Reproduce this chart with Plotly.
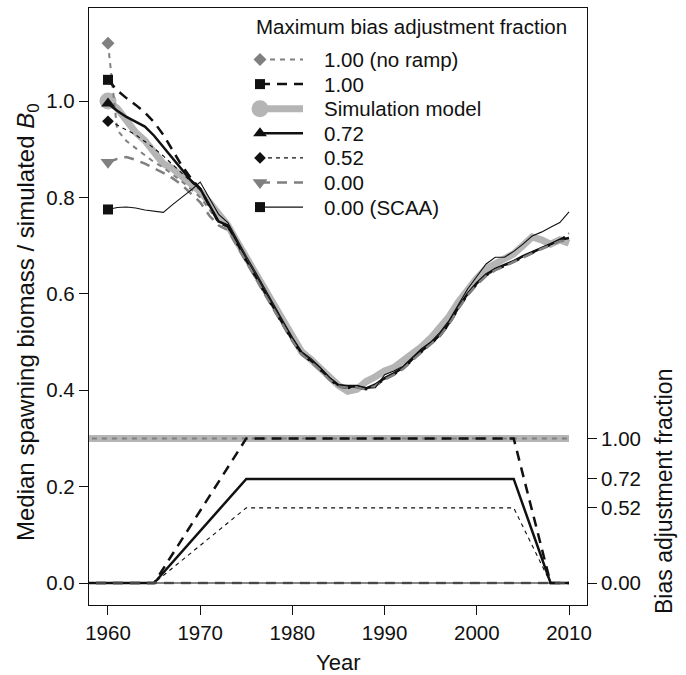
import plotly.graph_objects as go

# ---- data -------------------------------------------------------------
years = list(range(1960, 2011))

# median spawning biomass relative to simulated B0, one value per year
ssb_no_ramp = [1.120, 0.940, 0.917, 0.902, 0.887, 0.873, 0.862, 0.848, 0.833, 0.817,
               0.800, 0.775, 0.748, 0.738, 0.702, 0.667, 0.634, 0.601, 0.567, 0.535,
               0.503, 0.475, 0.460, 0.443, 0.423, 0.409, 0.406, 0.407, 0.403, 0.410,
               0.423, 0.433, 0.445, 0.463, 0.480, 0.495, 0.513, 0.538, 0.570, 0.598,
               0.620, 0.638, 0.650, 0.658, 0.667, 0.677, 0.686, 0.694, 0.702, 0.711,
               0.726]
ssb_100 = [1.044, 1.022, 1.006, 0.992, 0.976, 0.956, 0.930, 0.898, 0.866, 0.840,
           0.818, 0.782, 0.748, 0.740, 0.703, 0.668, 0.635, 0.600, 0.568, 0.535,
           0.503, 0.475, 0.460, 0.443, 0.423, 0.408, 0.405, 0.406, 0.402, 0.410,
           0.423, 0.433, 0.445, 0.463, 0.480, 0.495, 0.513, 0.538, 0.570, 0.598,
           0.620, 0.638, 0.650, 0.658, 0.667, 0.677, 0.686, 0.694, 0.702, 0.712,
           0.722]
ssb_sim = [1.000, 0.985, 0.960, 0.935, 0.918, 0.895, 0.870, 0.860, 0.843, 0.830,
           0.812, 0.790, 0.765, 0.742, 0.708, 0.675, 0.643, 0.608, 0.575, 0.543,
           0.510, 0.480, 0.464, 0.448, 0.428, 0.410, 0.398, 0.402, 0.418, 0.428,
           0.440, 0.447, 0.460, 0.475, 0.490, 0.508, 0.528, 0.553, 0.583, 0.608,
           0.632, 0.652, 0.663, 0.673, 0.683, 0.700, 0.718, 0.712, 0.703, 0.712,
           0.705]
ssb_072 = [0.995, 0.980, 0.967, 0.957, 0.947, 0.928, 0.905, 0.880, 0.857, 0.835,
           0.818, 0.785, 0.750, 0.742, 0.705, 0.670, 0.637, 0.603, 0.570, 0.537,
           0.505, 0.477, 0.462, 0.445, 0.425, 0.410, 0.407, 0.408, 0.404, 0.412,
           0.425, 0.435, 0.447, 0.465, 0.482, 0.497, 0.515, 0.540, 0.572, 0.600,
           0.622, 0.640, 0.652, 0.660, 0.668, 0.678, 0.687, 0.695, 0.703, 0.712,
           0.716]
ssb_052 = [0.958, 0.950, 0.940, 0.930, 0.916, 0.902, 0.886, 0.868, 0.850, 0.833,
           0.815, 0.783, 0.750, 0.741, 0.704, 0.669, 0.636, 0.602, 0.569, 0.536,
           0.504, 0.476, 0.461, 0.444, 0.424, 0.409, 0.406, 0.407, 0.403, 0.411,
           0.424, 0.434, 0.446, 0.464, 0.481, 0.496, 0.514, 0.539, 0.571, 0.599,
           0.621, 0.639, 0.651, 0.659, 0.668, 0.678, 0.687, 0.695, 0.703, 0.711,
           0.718]
ssb_000 = [0.873, 0.880, 0.884, 0.878, 0.870, 0.861, 0.851, 0.840, 0.826, 0.808,
           0.790, 0.762, 0.742, 0.732, 0.700, 0.666, 0.633, 0.599, 0.566, 0.534,
           0.502, 0.474, 0.459, 0.442, 0.422, 0.408, 0.405, 0.406, 0.402, 0.409,
           0.422, 0.432, 0.444, 0.462, 0.479, 0.494, 0.512, 0.537, 0.569, 0.597,
           0.619, 0.637, 0.649, 0.657, 0.666, 0.676, 0.685, 0.693, 0.701, 0.709,
           0.712]
ssb_scaa = [0.775, 0.779, 0.780, 0.778, 0.774, 0.771, 0.769, 0.785, 0.800, 0.815,
            0.832, 0.800, 0.765, 0.748, 0.712, 0.678, 0.645, 0.610, 0.577, 0.543,
            0.510, 0.480, 0.466, 0.448, 0.427, 0.412, 0.410, 0.410, 0.404, 0.405,
            0.432, 0.440, 0.450, 0.468, 0.486, 0.500, 0.520, 0.545, 0.578, 0.610,
            0.636, 0.662, 0.676, 0.676, 0.688, 0.703, 0.720, 0.728, 0.738, 0.748,
            0.770]

# bias adjustment ramps (right-hand axis)
ramp_years = [1955, 1965, 1975, 2004, 2008, 2010]
ramp_100 = [0, 0, 1.00, 1.00, 0, 0]
ramp_072 = [0, 0, 0.72, 0.72, 0, 0]
ramp_052 = [0, 0, 0.52, 0.52, 0, 0]
flat_years = [1955, 2010]
flat_one = [1.00, 1.00]
flat_zero = [0.00, 0.00]

bias_ticks = [0.00, 0.52, 0.72, 1.00]
x_ticks = [1960, 1970, 1980, 1990, 2000, 2010]
y_ticks = [0.0, 0.2, 0.4, 0.6, 0.8, 1.0]

legend_title = "Maximum bias adjustment fraction"

# ---- styling ----------------------------------------------------------
BLACK = "#111111"
GREY = "#808080"
LIGHT = "#b5b5b5"
CLEAR = "rgba(0,0,0,0)"
FONT = "Liberation Sans, Arial, Helvetica, sans-serif"
TXT = 20.5

W, H = 686, 675
ML, MR, MT, MB = 89, 99, 8, 70
PW, PH = W - ML - MR, H - MT - MB

Y_LO, Y_HI = -0.0456, 1.193
BIAS_SCALE = 0.3  # bias fraction of 1 sits at 0.3 on the biomass axis

series = [
    # name, biomass, ramp x, ramp y, colour, width, dash, symbol, size
    ("1.00 (no ramp)", ssb_no_ramp, flat_years, flat_one, GREY, 2.0, "5px,5px", "diamond", 10),
    ("1.00", ssb_100, ramp_years, ramp_100, BLACK, 2.5, "10px,7px", "square", 10),
    ("Simulation model", ssb_sim, flat_years, flat_one, LIGHT, 7.0, "solid", "circle", 17),
    ("0.72", ssb_072, ramp_years, ramp_072, BLACK, 2.5, "solid", "triangle-up", 12),
    ("0.52", ssb_052, ramp_years, ramp_052, BLACK, 1.1, "4px,4px", "diamond", 9),
    ("0.00", ssb_000, flat_years, flat_zero, GREY, 2.5, "10px,7px", "triangle-down", 13),
    ("0.00 (SCAA)", ssb_scaa, flat_years, flat_zero, BLACK, 1.1, "solid", "square", 10),
]

# draw the wide simulation band first so the others sit on top
draw_order = [2, 0, 1, 3, 4, 5, 6]

fig = go.Figure()
for i in draw_order:
    name, ssb, rx, ry, col, w, dash, sym, size = series[i]
    marker_cols = [col] + [CLEAR] * (len(years) - 1)
    fig.add_trace(go.Scatter(
        x=years, y=ssb, name=name, legendgroup=name, showlegend=False,
        mode="lines+markers",
        line=dict(color=col, width=w, dash=dash),
        marker=dict(symbol=sym, size=size, color=marker_cols, line=dict(width=0)),
        yaxis="y",
    ))
    fig.add_trace(go.Scatter(
        x=rx, y=ry, name=name, legendgroup=name, showlegend=False,
        mode="lines", line=dict(color=col, width=w, dash=dash),
        yaxis="y2",
    ))


# ---- key (drawn in paper space, R-style: symbol, then line, then label) ----
def px(x):
    return (x - ML) / PW


def py(y):
    return 1 - (y - MT) / PH


def symbol_path(kind, cx, cy, size):
    """Closed outline for a key symbol centred on pixel (cx, cy)."""
    r = size / 2
    if kind == "diamond":
        d = r * 1.3
        pts = [(cx + d, cy), (cx, cy + d), (cx - d, cy), (cx, cy - d)]
    elif kind == "square":
        pts = [(cx - r, cy - r), (cx + r, cy - r), (cx + r, cy + r), (cx - r, cy + r)]
    elif kind == "triangle-up":
        t = r * 2 / 3 ** 0.5
        pts = [(cx - t, cy + r / 2), (cx + t, cy + r / 2), (cx, cy - r)]
    elif kind == "triangle-down":
        t = r * 2 / 3 ** 0.5
        pts = [(cx - t, cy - r / 2), (cx + t, cy - r / 2), (cx, cy + r)]
    else:
        return None
    return "M " + " L ".join(f"{px(a):.5f},{py(b):.5f}" for a, b in pts) + " Z"


KEY_X = 260      # symbol centre
KEY_END = 303    # end of the line sample
KEY_TEXT = 322   # label start
KEY_ROW0 = 59.5  # first row centre
KEY_STEP = 24.6  # row spacing

shapes = []
annotations = [
    dict(text=legend_title, xref="paper", yref="paper", x=px(254), y=py(26),
         xanchor="left", yanchor="middle", showarrow=False,
         font=dict(size=TXT, color=BLACK)),
]
for k, (name, _, _, _, col, w, dash, sym, size) in enumerate(series):
    cy = KEY_ROW0 + k * KEY_STEP
    shapes.append(dict(type="line", xref="paper", yref="paper",
                       x0=px(KEY_X), x1=px(KEY_END), y0=py(cy), y1=py(cy),
                       line=dict(color=col, width=w, dash=dash)))
    if sym == "circle":
        r = size / 2
        shapes.append(dict(type="circle", xref="paper", yref="paper",
                           x0=px(KEY_X - r), x1=px(KEY_X + r),
                           y0=py(cy + r), y1=py(cy - r),
                           fillcolor=col, line=dict(width=0)))
    else:
        shapes.append(dict(type="path", xref="paper", yref="paper",
                           path=symbol_path(sym, KEY_X, cy, size),
                           fillcolor=col, line=dict(width=0)))
    annotations.append(dict(text=name, xref="paper", yref="paper",
                            x=px(KEY_TEXT), y=py(cy), xanchor="left", yanchor="middle",
                            showarrow=False, font=dict(size=TXT, color=BLACK)))

# axis titles
annotations += [
    dict(text="Year", xref="paper", yref="paper", x=px(338), y=py(662),
         xanchor="center", yanchor="middle", showarrow=False, font=dict(size=22)),
    dict(text="Median spawning biomass / simulated <i>B</i><sub>0</sub>",
         xref="paper", yref="paper", x=px(27), y=py(322), textangle=-90,
         xanchor="center", yanchor="middle", showarrow=False, font=dict(size=24)),
    dict(text="Bias adjustment fraction", xref="paper", yref="paper",
         x=px(664), y=py(492), textangle=-90, xanchor="center", yanchor="middle",
         showarrow=False, font=dict(size=23)),
]

axis_common = dict(
    showgrid=False, zeroline=False, ticks="outside", ticklen=9, tickwidth=1.3,
    tickcolor=BLACK, linecolor=BLACK, linewidth=1.3,
    tickfont=dict(size=TXT, color=BLACK),
)

fig.update_layout(
    width=W, height=H,
    margin=dict(l=ML, r=MR, t=MT, b=MB),
    plot_bgcolor="white", paper_bgcolor="white",
    font=dict(family=FONT, size=TXT, color=BLACK),
    showlegend=False,
    xaxis=dict(range=[1957.94, 2011.95], tickvals=x_ticks, showline=True, mirror=True,
               **axis_common),
    yaxis=dict(range=[Y_LO, Y_HI], tickvals=y_ticks, tickformat=".1f",
               showline=True, mirror=True, **axis_common),
    yaxis2=dict(range=[Y_LO / BIAS_SCALE, Y_HI / BIAS_SCALE], overlaying="y", side="right",
                tickvals=bias_ticks, tickformat=".2f", showline=False, **axis_common),
    shapes=shapes,
    annotations=annotations,
)

fig.write_html("out.html")
